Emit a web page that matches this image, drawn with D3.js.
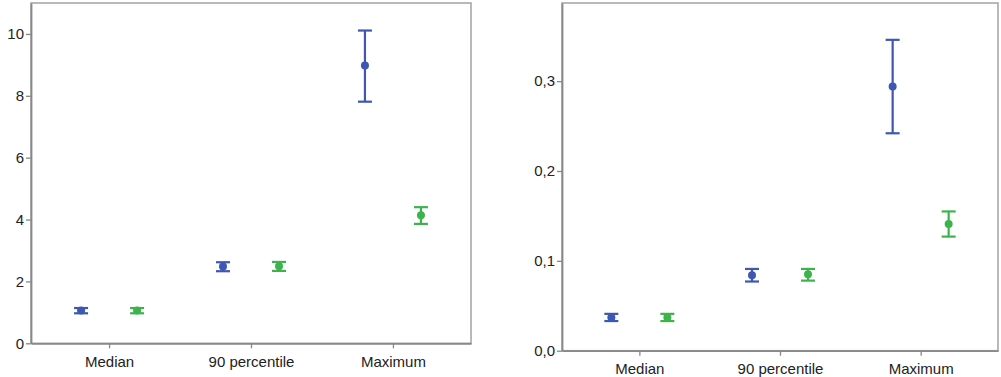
<!DOCTYPE html>
<html><head><meta charset="utf-8">
<script src="https://cdn.jsdelivr.net/npm/d3@7"></script>
<style>
html,body{margin:0;padding:0;background:#fff;}
svg{display:block;font-family:"Liberation Sans",Arial,sans-serif;}
</style></head>
<body><svg id="chart" width="1001" height="377"></svg>
<script>
const categories = ["Median", "90 percentile", "Maximum"];

const leftTicks = [0, 2, 4, 6, 8, 10];
const leftBlueMean  = [1.06, 2.48, 8.98];
const leftBlueLow   = [0.97, 2.33, 7.81];
const leftBlueHigh  = [1.14, 2.62, 10.11];
const leftGreenMean = [1.06, 2.49, 4.14];
const leftGreenLow  = [0.97, 2.34, 3.86];
const leftGreenHigh = [1.14, 2.63, 4.40];

const rightTicks = [0, 0.1, 0.2, 0.3];
const rightBlueMean  = [0.037, 0.084, 0.294];
const rightBlueLow   = [0.033, 0.077, 0.242];
const rightBlueHigh  = [0.041, 0.091, 0.346];
const rightGreenMean = [0.037, 0.085, 0.141];
const rightGreenLow  = [0.033, 0.078, 0.127];
const rightGreenHigh = [0.041, 0.091, 0.155];

const BLUE = "#3d57b3", GREEN = "#3cb44b";
const svg = d3.select("#chart");
const commaFmt = d3.formatLocale({decimal: ",", thousands: ".", grouping: [3], currency: ["", ""]}).format(".1f");

function panel(opt) {
  const x = d3.scalePoint().domain(categories).range([opt.x0, opt.x1]).padding(0.55);
  const y = d3.scaleLinear().domain([0, opt.ymax]).range([opt.y1, opt.y0]);
  const g = svg.append("g");
  // frame
  g.append("rect").attr("x", opt.x0).attr("y", opt.y0)
    .attr("width", opt.x1 - opt.x0).attr("height", opt.y1 - opt.y0)
    .attr("fill", "none").attr("stroke", "#a8a8a8").attr("stroke-width", 1.6);
  const ya = g.append("g").attr("transform", `translate(${opt.x0},0)`)
    .call(d3.axisLeft(y).tickValues(opt.ticks).tickSize(5).tickSizeOuter(0).tickPadding(2).tickFormat(opt.fmt));
  const xa = g.append("g").attr("transform", `translate(0,${opt.y1})`)
    .call(d3.axisBottom(x).tickSize(5).tickSizeOuter(0).tickPadding(8));
  [ya, xa].forEach(a => {
    a.select(".domain").attr("stroke", "#888").attr("stroke-width", 1.8);
    a.selectAll(".tick line").attr("stroke", "#888").attr("stroke-width", 1.3);
    a.selectAll(".tick text").attr("fill", "#222").style("font-size", "15px")
      .style("font-family", "'Liberation Sans', Arial, sans-serif");
  });
  opt.series.forEach(s => {
    categories.forEach((c, i) => {
      const cx = x(c) + s.dx;
      const sg = g.append("g").attr("stroke", s.color).attr("stroke-width", 2.2);
      sg.append("line").attr("x1", cx).attr("x2", cx).attr("y1", y(s.low[i])).attr("y2", y(s.high[i]));
      sg.append("line").attr("x1", cx - 7).attr("x2", cx + 7).attr("y1", y(s.low[i])).attr("y2", y(s.low[i]));
      sg.append("line").attr("x1", cx - 7).attr("x2", cx + 7).attr("y1", y(s.high[i])).attr("y2", y(s.high[i]));
      g.append("circle").attr("cx", cx).attr("cy", y(s.mean[i])).attr("r", 4).attr("fill", s.color);
    });
  });
}

panel({x0: 31, x1: 471, y0: 3, y1: 343.3, ymax: 11.0, ticks: leftTicks, fmt: d3.format("d"),
  series: [
    {color: BLUE, dx: -28, mean: leftBlueMean, low: leftBlueLow, high: leftBlueHigh},
    {color: GREEN, dx: 28, mean: leftGreenMean, low: leftGreenLow, high: leftGreenHigh}
  ]});
panel({x0: 562, x1: 998, y0: 3, y1: 350.7, ymax: 0.387, ticks: rightTicks, fmt: commaFmt,
  series: [
    {color: BLUE, dx: -28, mean: rightBlueMean, low: rightBlueLow, high: rightBlueHigh},
    {color: GREEN, dx: 28, mean: rightGreenMean, low: rightGreenLow, high: rightGreenHigh}
  ]});
</script></body></html>
